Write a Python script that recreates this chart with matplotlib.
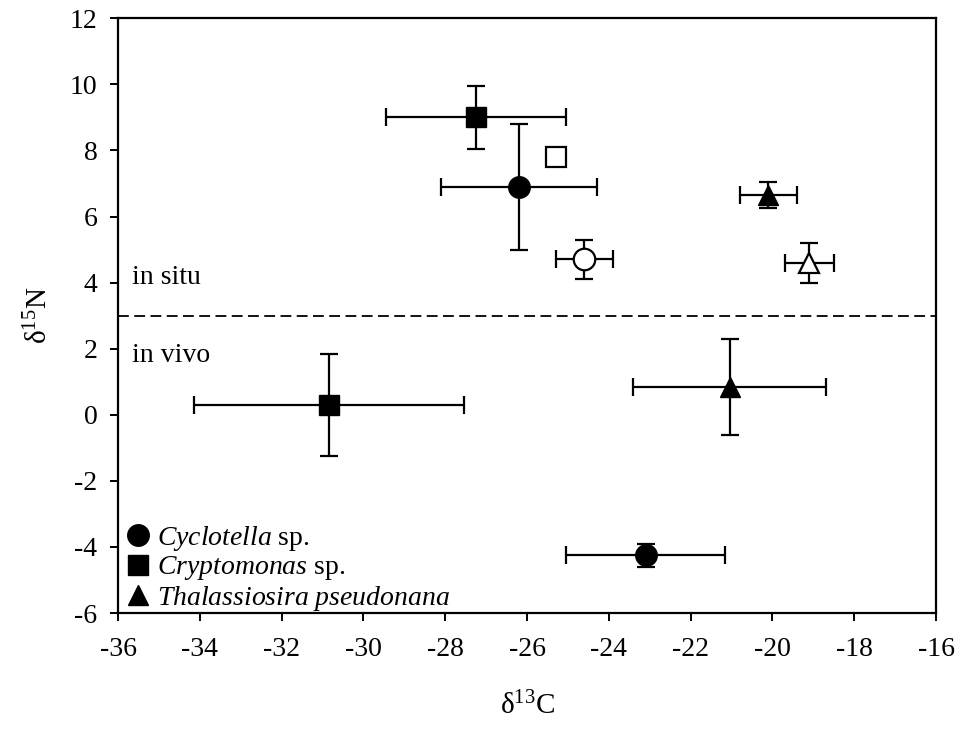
import matplotlib
matplotlib.use('Agg')
import matplotlib.pyplot as plt

plt.rcParams['font.family'] = ['Liberation Serif', 'DejaVu Serif']
plt.rcParams['mathtext.fontset'] = 'custom'
plt.rcParams['mathtext.rm'] = 'Liberation Serif'
plt.rcParams['mathtext.it'] = 'Liberation Serif:italic'
plt.rcParams['axes.unicode_minus'] = False

# species / condition -> d13C, d15N with sd
species   = ['Cyclotella sp.', 'Cryptomonas sp.', 'Thalassiosira pseudonana']
markers   = ['o', 's', '^']
msizes    = [15.5, 14, 14.5]

# filled points (in situ above the line, in vivo below)
fill_x    = [-26.2, -27.25, -20.1, -23.1, -30.85, -21.05]
fill_y    = [6.9, 9.0, 6.65, -4.25, 0.3, 0.85]
fill_xe   = [1.9, 2.2, 0.7, 1.95, 3.3, 2.35]
fill_ye   = [1.9, 0.95, 0.4, 0.35, 1.55, 1.45]
fill_mk   = ['o', 's', '^', 'o', 's', '^']

# open symbols
open_x    = [-24.6, -25.3, -19.1]
open_y    = [4.7, 7.8, 4.6]
open_xe   = [0.7, 0, 0.6]
open_ye   = [0.6, 0, 0.6]
open_mk   = ['o', 's', '^']

msz = dict(zip(markers, msizes))

fig = plt.figure(figsize=(9.68, 7.29), dpi=100)
ax = fig.add_axes([0.122, 0.159, 0.845, 0.816])

for x, y, xe, ye, m in zip(fill_x, fill_y, fill_xe, fill_ye, fill_mk):
    ax.errorbar(x, y, xerr=xe, yerr=ye, fmt=m, color='black', ms=msz[m],
                ecolor='black', elinewidth=1.6, capsize=6.5, capthick=1.6, zorder=3)

for x, y, xe, ye, m in zip(open_x, open_y, open_xe, open_ye, open_mk):
    if xe or ye:
        ax.errorbar(x, y, xerr=xe, yerr=ye, fmt='none', ecolor='black',
                    elinewidth=1.6, capsize=6.5, capthick=1.6, zorder=2)
    ax.plot(x, y, m, mfc='white', mec='black', mew=1.6, ms=msz[m], zorder=3)

ax.axhline(3, color='black', ls=(0, (6, 3)), lw=1.3)
ax.text(-35.65, 4.14, 'in situ', fontsize=20, va='center')
ax.text(-35.65, 1.8, 'in vivo', fontsize=20, va='center')

labels = [r'$\mathit{Cyclotella}$ sp.', r'$\mathit{Cryptomonas}$ sp.',
          r'$\mathit{Thalassiosira\ pseudonana}$']
handles = [ax.plot([], [], m, color='black', ms=msz[m])[0] for m in markers]
ax.legend(handles, labels, loc='lower left', frameon=False, fontsize=20,
          handlelength=0.6, handletextpad=0.4, labelspacing=0.05,
          borderaxespad=0.0, bbox_to_anchor=(0.0, -0.018))

ax.set_xlim(-36, -16)
ax.set_ylim(-6, 12)
ax.set_xticks(range(-36, -15, 2))
ax.set_yticks(range(-6, 13, 2))
ax.tick_params(direction='out', length=6, width=1.4, labelsize=20)
ax.tick_params(axis='x', pad=11)
ax.tick_params(axis='y', pad=9)
for s in ax.spines.values():
    s.set_linewidth(1.6)

ax.set_xlabel('δ$^{13}$C', fontsize=21, labelpad=22)
ax.set_ylabel('δ$^{15}$N', fontsize=21, labelpad=12)

fig.savefig('out.png', dpi=100)
